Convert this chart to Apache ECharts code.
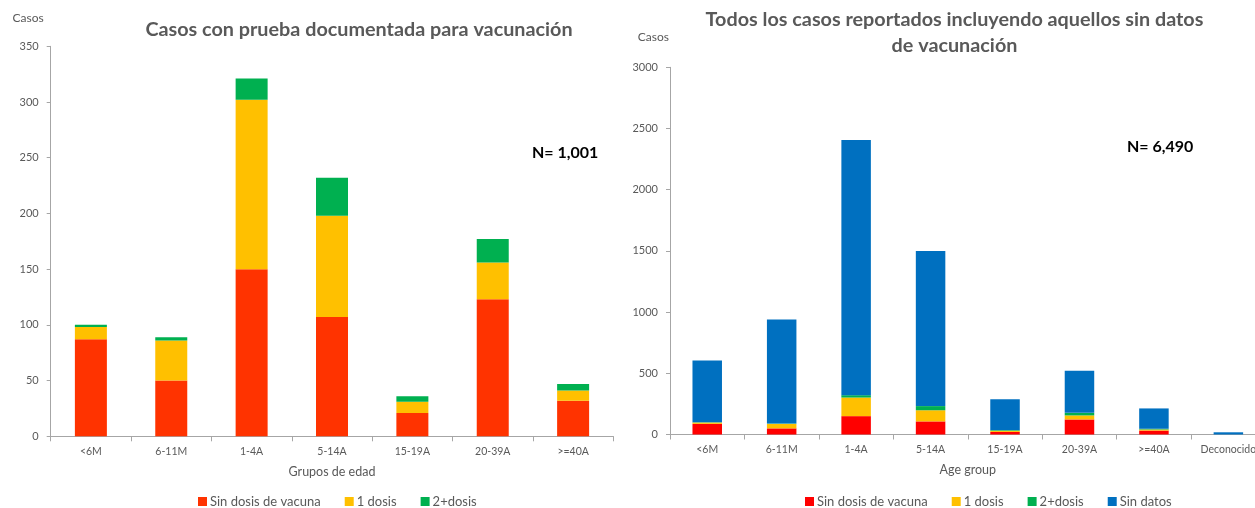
<!DOCTYPE html>
<html>
<head>
<meta charset="utf-8">
<script src="https://cdn.jsdelivr.net/npm/echarts@6/dist/echarts.min.js"></script>
<style>
  html, body { margin: 0; padding: 0; background: #fff; overflow: hidden; width: 1255px; height: 508px; }
  #izq { position: absolute; left: 0; top: 0; width: 620px; height: 508px; }
  #der { position: absolute; left: 620px; top: 0; width: 700px; height: 508px; }
</style>
</head>
<body>
<div id="izq"></div>
<div id="der"></div>
<script>
// grupos de edad
const gruposIzq = ['<6M', '6-11M', '1-4A', '5-14A', '15-19A', '20-39A', '>=40A'];
const gruposDer = ['<6M', '6-11M', '1-4A', '5-14A', '15-19A', '20-39A', '>=40A', 'Deconocido'];

// casos con prueba documentada
const sinDosis = [87, 50, 150, 107, 21, 123, 32];
const unaDosis = [11, 36, 152, 91, 10, 33, 9];
const dosMas = [2, 3, 19, 34, 5, 21, 6];

// todos los casos reportados
const sinDosisTodos = [87, 50, 150, 107, 21, 123, 32, 0];
const unaDosisTodos = [11, 36, 152, 91, 10, 33, 9, 0];
const dosMasTodos = [2, 3, 19, 34, 5, 21, 6, 0];
const sinDatos = [505, 850, 2085, 1268, 252, 344, 166, 18];

// ejes
const maxIzq = 350, pasoIzq = 50;
const maxDer = 3000, pasoDer = 500;

const tituloIzq = 'Casos con prueba documentada para vacunación';
const tituloDer = 'Todos los casos reportados incluyendo aquellos sin datos\nde vacunación';
const nIzq = 'N= 1,001';
const nDer = 'N= 6,490';

const fuente = 'Lato, "Open Sans", sans-serif';
const gris = '#595959';
const lineaEje = '#A6A6A6';

function ejeX(datos, nombre, gap) {
    return {
        type: 'category', data: datos, name: nombre, nameLocation: 'middle', nameGap: gap,
        nameTextStyle: { color: gris, fontFamily: fuente, fontSize: 12.5 },
        axisLine: { lineStyle: { color: lineaEje, width: 1 } },
        axisTick: { show: true, length: 5, lineStyle: { color: lineaEje } },
        axisLabel: { color: gris, fontFamily: fuente, fontSize: 10.5, margin: 10 },
        splitLine: { show: false }
    };
}

function ejeY(max, paso, gapNombre, padNombre) {
    return {
        type: 'value', min: 0, max: max, interval: paso,
        name: 'Casos', nameLocation: 'end', nameGap: gapNombre,
        nameTextStyle: { color: gris, fontFamily: fuente, fontSize: 12, align: 'right', verticalAlign: 'middle', padding: [0, padNombre, 0, 0] },
        axisLine: { show: true, lineStyle: { color: lineaEje, width: 1 } },
        axisTick: { show: true, length: 4, lineStyle: { color: lineaEje } },
        axisLabel: { color: gris, fontFamily: fuente, fontSize: 11, margin: 12, formatter: v => String(v) },
        splitLine: { show: false }
    };
}

function leyenda(nombres, colores, izquierda) {
    return {
        left: izquierda, top: 495, padding: 0, icon: 'rect', itemWidth: 9, itemHeight: 9, itemGap: 24,
        selectedMode: false,
        data: nombres.map((n, i) => ({ name: n, itemStyle: { color: colores[i] } })),
        textStyle: { color: gris, fontFamily: fuente, fontSize: 13, padding: [0, 0, 0, -2] }
    };
}

function serie(nombre, datos, color, ancho) {
    return { name: nombre, type: 'bar', stack: 'total', data: datos, barWidth: ancho, itemStyle: { color: color }, animation: false };
}

// grafico izquierdo
const chartIzq = echarts.init(document.getElementById('izq'));
const coloresIzq = ['#FF3300', '#FFC000', '#00B050'];
chartIzq.setOption({
    animation: false,
    title: {
        text: tituloIzq, left: 354, top: 13, textAlign: 'center',
        textStyle: { color: gris, fontFamily: fuente, fontSize: 19.8, fontWeight: 'bold', lineHeight: 24 }
    },
    grid: { left: 50.7, top: 46.3, width: 562.6, height: 390 },
    xAxis: ejeX(gruposIzq, 'Grupos de edad', 29),
    yAxis: ejeY(maxIzq, pasoIzq, 28, 7),
    legend: leyenda(['Sin dosis de vacuna', '1 dosis', '2+dosis'], coloresIzq, 198),
    graphic: [{
        type: 'text', left: 532, top: 145,
        style: { text: nIzq, fill: '#000', font: 'bold 16px ' + fuente }
    }],
    series: [
        serie('Sin dosis de vacuna', sinDosis, coloresIzq[0], 32),
        serie('1 dosis', unaDosis, coloresIzq[1], 32),
        serie('2+dosis', dosMas, coloresIzq[2], 32)
    ]
});

// grafico derecho
const chartDer = echarts.init(document.getElementById('der'));
const coloresDer = ['#FF0000', '#FFC000', '#00B050', '#0070C0'];
chartDer.setOption({
    animation: false,
    title: {
        text: tituloDer, left: 329.5, top: 1, textAlign: 'center',
        textStyle: { color: gris, fontFamily: fuente, fontSize: 19.8, fontWeight: 'bold', lineHeight: 26.5 }
    },
    grid: { left: 50, top: 67.3, width: 595.6, height: 367.2 },
    xAxis: ejeX(gruposDer, 'Age group', 29),
    yAxis: ejeY(maxDer, pasoDer, 30, 1),
    legend: leyenda(['Sin dosis de vacuna', '1 dosis', '2+dosis', 'Sin datos'], coloresDer, 185),
    graphic: [{
        type: 'text', left: 507, top: 139,
        style: { text: nDer, fill: '#000', font: 'bold 16px ' + fuente }
    }],
    series: [
        serie('Sin dosis de vacuna', sinDosisTodos, coloresDer[0], 29.5),
        serie('1 dosis', unaDosisTodos, coloresDer[1], 29.5),
        serie('2+dosis', dosMasTodos, coloresDer[2], 29.5),
        serie('Sin datos', sinDatos, coloresDer[3], 29.5)
    ]
});
</script>
</body>
</html>
